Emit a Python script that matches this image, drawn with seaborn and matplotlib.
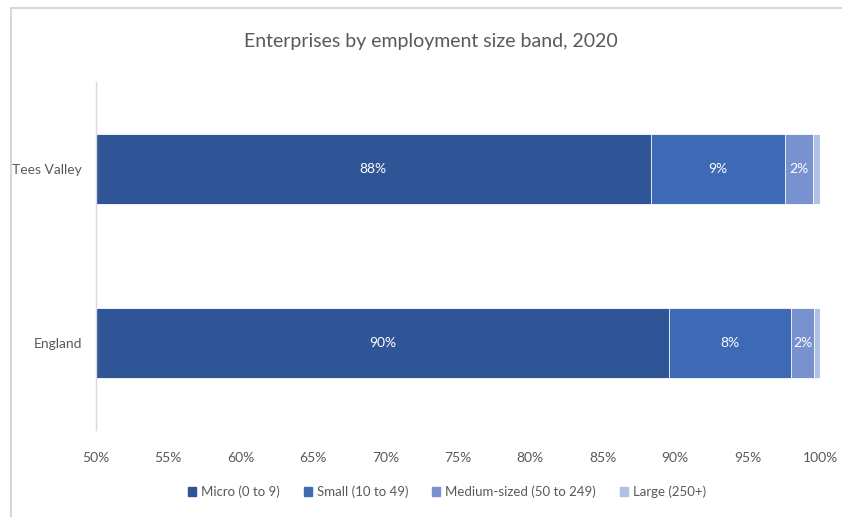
import matplotlib
matplotlib.use("Agg")
import matplotlib.pyplot as plt
from matplotlib.patches import Rectangle
import seaborn as sns
import pandas as pd

regions = ["Tees Valley", "England"]
bands = ["Micro (0 to 9)", "Small (10 to 49)", "Medium-sized (50 to 249)", "Large (250+)"]
micro = [88.3, 89.6]
small = [9.3, 8.4]
medium = [1.9, 1.6]
large = [0.5, 0.4]
x_ticks = [50, 55, 60, 65, 70, 75, 80, 85, 90, 95, 100]

colors = ["#2F5597", "#3D69B5", "#7891CF", "#B2BFE4"]
grey = "#595959"

sns.set_theme(style="white")
plt.rcParams["font.family"] = ["Lato", "DejaVu Sans"]

df = pd.DataFrame({"region": regions, bands[0]: micro, bands[1]: small,
                   bands[2]: medium, bands[3]: large})
cum = df[bands].cumsum(axis=1)

fig = plt.figure(figsize=(8.42, 5.17), dpi=100)
ax = fig.add_axes([96 / 842, 87 / 517, 724 / 842, 348 / 517])

# stacked bars: draw the cumulative totals from the largest down
for band, col in reversed(list(zip(bands, colors))):
    sns.barplot(x=cum[band], y=df["region"], color=col, orient="h",
                width=0.4, saturation=1, edgecolor="white", linewidth=0.6,
                ax=ax)

xmin = 50
ax.set_xlim(xmin, 100)
ax.set_ylim(1.5, -0.5)

# value labels for the three visible bands
for i, r in df.iterrows():
    left = xmin
    for band in bands[:3]:
        right = cum.loc[i, band]
        ax.text((max(left, xmin) + right) / 2, i, f"{r[band]:.0f}%",
                ha="center", va="center", color="white", fontsize=10)
        left = right

ax.set_xticks(x_ticks)
ax.set_xticklabels([f"{t}%" for t in x_ticks])
ax.tick_params(axis="x", colors=grey, labelsize=10, length=0, pad=16)
ax.tick_params(axis="y", colors=grey, labelsize=10, length=0, pad=10)
ax.set_xlabel("")
ax.set_ylabel("")
for s in ["top", "right", "bottom"]:
    ax.spines[s].set_visible(False)
ax.spines["left"].set_color("#D9D9D9")
ax.spines["left"].set_linewidth(1.0)

handles = [Rectangle((0, 0), 1, 1, color=c) for c in colors]
leg = fig.legend(handles, bands, loc="center", ncol=4, frameon=False,
                 bbox_to_anchor=(447 / 842, 1 - 492 / 517), fontsize=9.5,
                 handlelength=0.6, handleheight=0.6, handletextpad=0.4,
                 columnspacing=1.8)
for t in leg.get_texts():
    t.set_color(grey)

fig.text(431 / 842, 1 - 42 / 517, "Enterprises by employment size band, 2020",
         ha="center", va="center", fontsize=14, color=grey)

# outer chart frame
fig.patches.append(Rectangle((11 / 842, -0.01), 1.0, 1 - 8 / 517 + 0.01,
                             transform=fig.transFigure, fill=False,
                             edgecolor="#D0D0D0", linewidth=1.2))

fig.savefig("out.png", dpi=100)
